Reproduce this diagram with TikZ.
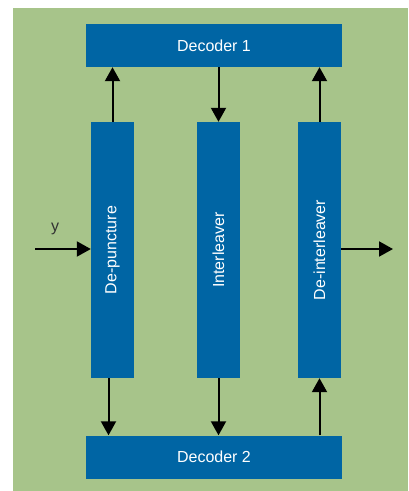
\documentclass[tikz,border=0pt]{standalone}
\usepackage{fontspec}
\setmainfont{Liberation Sans}
\usetikzlibrary{arrows.meta, positioning}
\definecolor{bggreen}{RGB}{167,196,138}
\definecolor{boxblue}{RGB}{0,101,164}
\definecolor{labelgray}{RGB}{51,51,51}

\begin{document}
\begin{tikzpicture}[x=1pt,y=-1pt,
		block/.style={fill=boxblue, text=white, inner sep=0pt, font=\fontsize{16}{18}\selectfont},
		hblock/.style={block, minimum width=256pt, minimum height=43pt},
		vblock/.style={block, minimum width=43pt, minimum height=256pt},
		link/.style={line width=2pt, -{Triangle[length=14pt,width=15pt]}}]
		\useasboundingbox (0,0) rectangle (408,491);
		% Background
		\fill[bggreen] (13,8) rectangle (408,491);
		% Decoders
		\node[hblock] (dec1) at (214,45.5) {Decoder 1};
		\node[hblock] (dec2) at (214,457) {Decoder 2};
		% Vertical stages
		\node[vblock] (depunct) at (112.5,250) {\rotatebox{90}{De-puncture}};
		\node[vblock] (intl) at (218.5,250) {\rotatebox{90}{Interleaver}};
		\node[vblock] (deintl) at (319.5,250) {\rotatebox{90}{De-interleaver}};
		% Links to Decoder 1
		\draw[link] (depunct.north) -- (depunct.north |- dec1.south);
		\draw[link] (intl.north |- dec1.south) -- (intl.north);
		\draw[link] (deintl.north) -- (deintl.north |- dec1.south);
		% Links to Decoder 2
		\draw[link] ([xshift=-4pt]depunct.south) -- ([xshift=-4pt]depunct.south |- dec2.north);
		\draw[link] (intl.south) -- (intl.south |- dec2.north);
		\draw[link] (deintl.south |- dec2.north) -- (deintl.south);
		% Input and output
		\coordinate (in) at (35,249);
		\coordinate (out) at (393,249);
		\draw[link] (in) -- (in -| depunct.west);
		\node[text=labelgray, font=\fontsize{16}{18}\selectfont] (ylab) at (55,229) {y};
		\draw[link] (deintl.east |- out) -- (out);
	\end{tikzpicture}
\end{document}
